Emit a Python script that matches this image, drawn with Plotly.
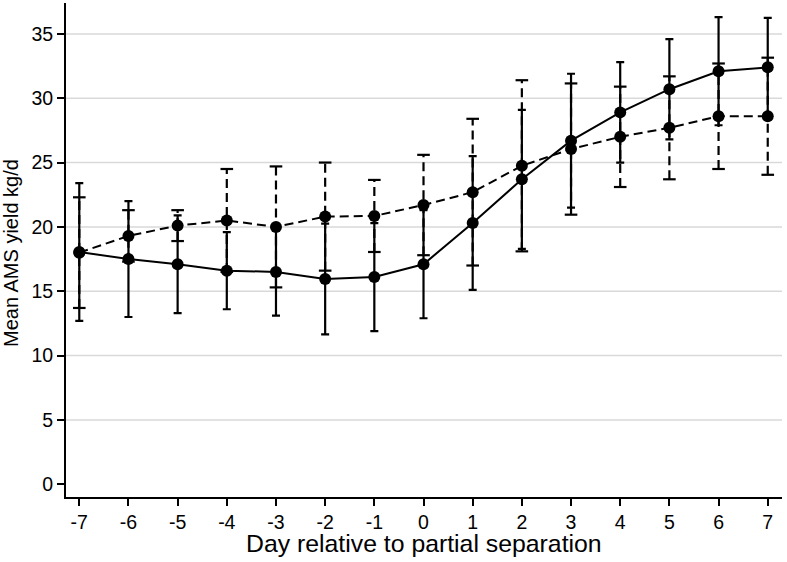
import plotly.graph_objects as go

days = [-7, -6, -5, -4, -3, -2, -1, 0, 1, 2, 3, 4, 5, 6, 7]
solid_mean = [18.05, 17.5, 17.1, 16.6, 16.5, 15.95, 16.1, 17.1, 20.3, 23.7, 26.7, 28.9, 30.7, 32.1, 32.4]
solid_sd = [5.35, 4.5, 3.8, 3.0, 3.4, 4.3, 4.2, 4.2, 5.2, 5.4, 5.2, 3.9, 3.9, 4.2, 3.85]
dashed_mean = [18.0, 19.3, 20.1, 20.5, 20.0, 20.8, 20.85, 21.7, 22.7, 24.75, 26.05, 27.0, 27.7, 28.6, 28.6]
dashed_sd = [4.3, 2.0, 1.2, 4.0, 4.7, 4.2, 2.8, 3.9, 5.7, 6.65, 5.1, 3.9, 4.0, 4.1, 4.55]
grid_levels = [5, 10, 15, 20, 25, 30, 35]
y_ticks = [0, 5, 10, 15, 20, 25, 30, 35]
x_title = "Day relative to partial separation"
y_title = "Mean AMS yield kg/d"

FONT = "Liberation Sans, Arial, sans-serif"
DASH = "9px,5px"

fig = go.Figure()

# dashed series error bars (vertical dashed segments)
ex, ey = [], []
for d, m, s in zip(days, dashed_mean, dashed_sd):
    ex += [d, d, None]
    ey += [m - s, m + s, None]
fig.add_trace(go.Scatter(x=ex, y=ey, mode="lines",
                         line=dict(color="black", width=2.2, dash=DASH),
                         hoverinfo="skip", showlegend=False))
# caps for dashed series
cap_x = days + days
cap_y = [m + s for m, s in zip(dashed_mean, dashed_sd)] + [m - s for m, s in zip(dashed_mean, dashed_sd)]
fig.add_trace(go.Scatter(x=cap_x, y=cap_y, mode="markers",
                         marker=dict(symbol="line-ew", size=9, line=dict(color="black", width=2.2)),
                         hoverinfo="skip", showlegend=False))
# dashed series line + markers
fig.add_trace(go.Scatter(x=days, y=dashed_mean, mode="lines+markers",
                         line=dict(color="black", width=2, dash=DASH),
                         marker=dict(color="black", size=12),
                         showlegend=False))

# solid series with error bars
fig.add_trace(go.Scatter(x=days, y=solid_mean, mode="lines+markers",
                         line=dict(color="black", width=2),
                         marker=dict(color="black", size=12),
                         error_y=dict(type="data", array=solid_sd, visible=True,
                                      color="black", thickness=2.2, width=4),
                         showlegend=False))

shapes = [dict(type="line", xref="paper", x0=0, x1=1, yref="y", y0=g, y1=g,
               line=dict(color="#d9d9d9", width=1.5), layer="below")
          for g in grid_levels]

annotations = [
    dict(text=x_title, xref="paper", yref="paper", x=0.5, y=0,
         xanchor="center", yanchor="middle", yshift=-46, showarrow=False,
         font=dict(size=24.8)),
    dict(text=y_title, xref="paper", yref="paper", x=0, y=0.5,
         xanchor="center", yanchor="middle", xshift=-55, yshift=-3,
         textangle=-90, showarrow=False, font=dict(size=20)),
]

fig.update_layout(
    width=787, height=562,
    margin=dict(l=66, r=5, t=3, b=65),
    paper_bgcolor="white", plot_bgcolor="white",
    font=dict(family=FONT, color="black", size=19),
    shapes=shapes,
    annotations=annotations,
    xaxis=dict(range=[-7.27, 7.29], tickmode="array", tickvals=days,
               ticktext=[str(d) for d in days],
               showgrid=False, zeroline=False, automargin=False,
               showline=True, linecolor="black", linewidth=2,
               ticks="outside", ticklen=7, tickwidth=2, tickcolor="black",
               tickfont=dict(size=19.5)),
    yaxis=dict(range=[-0.99, 37.4], tickmode="array", tickvals=y_ticks,
               showgrid=False, zeroline=False, automargin=False,
               showline=True, linecolor="black", linewidth=2,
               ticks="outside", ticklen=7, tickwidth=2, tickcolor="black",
               tickfont=dict(size=19.5)),
)

fig.write_html("out.html", config={"displayModeBar": False},
               post_script="document.body.style.margin='0';")
